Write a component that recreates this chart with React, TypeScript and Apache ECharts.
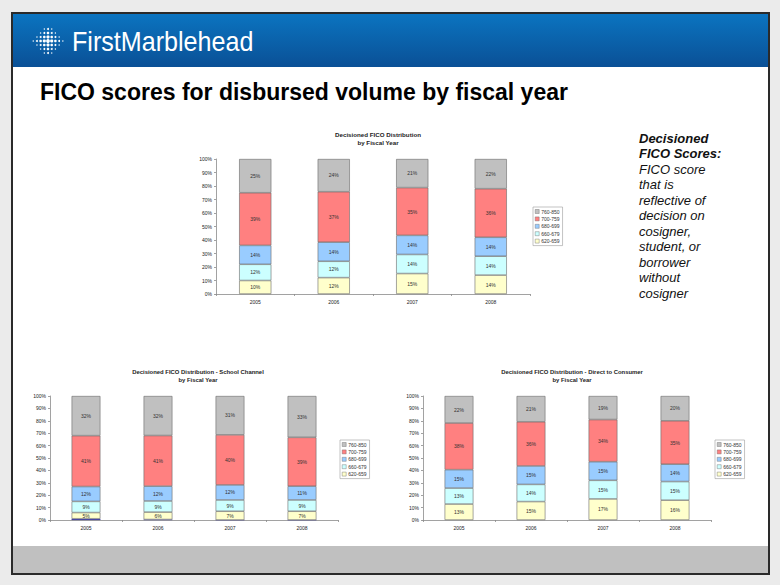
import React, { useEffect, useRef } from 'react';
import * as echarts from 'echarts';

const years = ['2005', '2006', '2007', '2008'];
const bands = ['620-659', '660-679', '680-699', '700-759', '760-850'];
const legendOrder = ['760-850', '700-759', '680-699', '660-679', '620-659'];
const bandColors = ['#ffffcc', '#ccffff', '#99ccff', '#ff8080', '#c0c0c0'];

// Overall
const all620 = [10, 12, 15, 14];
const all660 = [12, 12, 14, 14];
const all680 = [14, 14, 14, 14];
const all700 = [39, 37, 35, 36];
const all760 = [25, 24, 21, 22];

// School channel
const schoolBelow620 = [1, 0.4, 0, 0];
const school620 = [5, 6, 7, 7];
const school660 = [9, 9, 9, 9];
const school680 = [12, 12, 12, 11];
const school700 = [41, 41, 40, 39];
const school760 = [32, 32, 31, 33];

// Direct to consumer
const direct620 = [13, 15, 17, 16];
const direct660 = [13, 14, 15, 15];
const direct680 = [15, 15, 15, 14];
const direct700 = [38, 36, 34, 35];
const direct760 = [22, 21, 19, 20];

const chartTitles = [
  'Decisioned FICO Distribution\nby Fiscal Year',
  'Decisioned FICO Distribution - School Channel\nby Fiscal Year',
  'Decisioned FICO Distribution - Direct to Consumer\nby Fiscal Year',
];

const sideBold = ['Decisioned', 'FICO Scores:'];
const sideText = ['FICO score', 'that is', 'reflective of', 'decision on', 'cosigner,', 'student, or', 'borrower', 'without', 'cosigner'];

const FONT = '"Liberation Sans", Arial, sans-serif';

export default function App() {
  const ref = useRef<HTMLDivElement>(null);
  useEffect(() => {
    if (!ref.current) return;
    const chart = echarts.init(ref.current, undefined, { renderer: 'svg' });

    const charts = [
      { bands: [all620, all660, all680, all700, all760], extra: null as number[] | null,
        grid: { left: 216, top: 159, width: 314, height: 135 }, barWidth: '41%',
        titleX: 378, titleY: 138, titleSize: 6.2, legend: { left: 533, top: 207 } },
      { bands: [school620, school660, school680, school700, school760], extra: schoolBelow620,
        grid: { left: 50, top: 396, width: 288, height: 124 }, barWidth: '40%',
        titleX: 198, titleY: 376, titleSize: 5.9, legend: { left: 340, top: 440 } },
      { bands: [direct620, direct660, direct680, direct700, direct760], extra: null as number[] | null,
        grid: { left: 423, top: 396, width: 288, height: 124 }, barWidth: '40%',
        titleX: 572, titleY: 376, titleSize: 5.9, legend: { left: 715, top: 440 } },
    ];

    const grids: any[] = [];
    const xAxes: any[] = [];
    const yAxes: any[] = [];
    const series: any[] = [];
    const legends: any[] = [];
    const graphics: any[] = [];

    // slide frame & decorations
    graphics.push({ type: 'rect', z: -10, shape: { x: 12, y: 13, width: 757, height: 561 }, style: { fill: '#ffffff', stroke: '#2a2a2a', lineWidth: 2 } });
    graphics.push({
      type: 'rect', z: -9, shape: { x: 13, y: 14, width: 755, height: 53 },
      style: { fill: new echarts.graphic.LinearGradient(0, 0, 0, 1, [{ offset: 0, color: '#0b74c0' }, { offset: 1, color: '#0a5096' }]) },
    });
    graphics.push({ type: 'rect', z: -9, shape: { x: 13, y: 546, width: 755, height: 27 }, style: { fill: '#c0c0c0' } });
    for (let j = -3; j <= 3; j++) {
      for (let i = -4; i <= 4; i++) {
        const d = Math.abs(i) + Math.abs(j);
        if (d <= 4) {
          graphics.push({ type: 'circle', z: -8, shape: { cx: 48 + i * 3.7, cy: 41 + j * 4, r: Math.max(0.7, 1.9 - 0.3 * d) }, style: { fill: '#ffffff' } });
        }
      }
    }
    graphics.push({ type: 'text', z: -8, x: 72, y: 42, scaleX: 0.93, style: { text: 'FirstMarblehead', fill: '#ffffff', fontSize: 27, fontFamily: FONT, verticalAlign: 'middle' } });
    graphics.push({ type: 'text', z: -8, x: 40, y: 92, style: { text: 'FICO scores for disbursed volume by fiscal year', fill: '#000000', fontSize: 23, fontWeight: 'bold', fontFamily: FONT, verticalAlign: 'middle' } });
    const lines = [...sideBold.map((t) => ({ t, b: true })), ...sideText.map((t) => ({ t, b: false }))];
    lines.forEach((l, idx) => {
      graphics.push({ type: 'text', z: -8, x: 639, y: 138 + idx * 15.5, style: { text: l.t, fill: '#111', fontSize: 13, fontStyle: 'italic', fontWeight: l.b ? 'bold' : 'normal', fontFamily: FONT, verticalAlign: 'middle' } });
    });

    charts.forEach((c, ci) => {
      grids.push({ ...c.grid, containLabel: false, show: false });
      xAxes.push({
        type: 'category', gridIndex: ci, data: years,
        axisLine: { show: true, lineStyle: { color: '#8a8a8a', width: 0.8 } },
        axisTick: { show: true, length: 2, lineStyle: { color: '#8a8a8a', width: 0.8 } },
        axisLabel: { fontSize: 5, color: '#222', margin: 5, fontFamily: FONT },
      });
      yAxes.push({
        type: 'value', gridIndex: ci, min: 0, max: 100, interval: 10,
        axisLine: { show: true, lineStyle: { color: '#8a8a8a', width: 0.8 } },
        axisTick: { show: true, length: 2, lineStyle: { color: '#8a8a8a', width: 0.8 } },
        splitLine: { show: false },
        axisLabel: { fontSize: 5, color: '#222', margin: 4, formatter: '{value}%', fontFamily: FONT },
      });
      const totals = years.map((_, yi) => c.bands.reduce((s, arr) => s + arr[yi], 0) + (c.extra ? c.extra[yi] : 0));
      if (c.extra) {
        const ex = c.extra;
        series.push({
          type: 'bar', name: '<620', stack: 's' + ci, xAxisIndex: ci, yAxisIndex: ci, barWidth: c.barWidth,
          data: ex.map((v, yi) => (v / totals[yi]) * 100),
          itemStyle: { color: '#333399', borderColor: '#333399', borderWidth: 0.3 },
          label: { show: false },
        });
      }
      c.bands.forEach((arr, bi) => {
        series.push({
          type: 'bar', name: bands[bi], stack: 's' + ci, xAxisIndex: ci, yAxisIndex: ci, barWidth: c.barWidth,
          data: arr.map((v, yi) => (v / totals[yi]) * 100),
          itemStyle: { color: bandColors[bi], borderColor: '#6a6a6a', borderWidth: 0.6 },
          label: {
            show: true, position: 'inside', fontSize: 5, color: '#333', fontFamily: FONT,
            formatter: (p: any) => arr[p.dataIndex] + '%',
          },
        });
      });
      legends.push({
        data: legendOrder.map((n) => ({ name: n, itemStyle: { color: bandColors[bands.indexOf(n)], borderColor: '#666', borderWidth: 0.4 } })),
        orient: 'vertical', left: c.legend.left, top: c.legend.top,
        icon: 'rect', itemWidth: 4, itemHeight: 4, itemGap: 2.4, padding: [2, 3, 2, 2],
        backgroundColor: '#fff', borderColor: '#9a9a9a', borderWidth: 0.6, selectedMode: false,
        textStyle: { fontSize: 5, color: '#333', fontFamily: FONT, padding: [0, 0, 0, -3] },
      });
      graphics.push({
        type: 'text', x: c.titleX, y: c.titleY,
        style: { text: chartTitles[ci], fill: '#222', fontSize: c.titleSize, fontWeight: 'bold', fontFamily: FONT, align: 'center', verticalAlign: 'middle', lineHeight: 8 },
      });
    });

    chart.setOption({
      animation: false,
      backgroundColor: '#ebebeb',
      textStyle: { fontFamily: FONT },
      grid: grids,
      xAxis: xAxes,
      yAxis: yAxes,
      legend: legends,
      series,
      graphic: { elements: graphics },
    });
    return () => chart.dispose();
  }, []);
  return <div ref={ref} style={{ position: 'fixed', left: 0, top: 0, width: 780, height: 585 }} />;
}
